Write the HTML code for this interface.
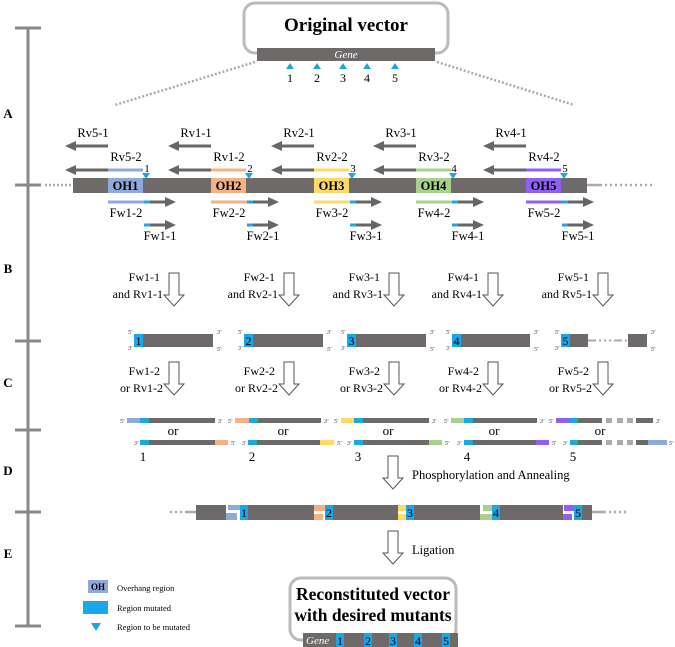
<!DOCTYPE html>
<html><head><meta charset="utf-8"><style>
html,body{margin:0;padding:0;background:#fff;}
svg{display:block;font-family:"Liberation Serif",serif;}
</style></head><body>
<svg width="675" height="647" viewBox="0 0 675 647" xmlns="http://www.w3.org/2000/svg">
<defs>
<g id="ha"><path d="M-5,0 h10 v22 h5 l-10,11 l-10,-11 h5 z" fill="#fff" stroke="#555" stroke-width="1"/></g>
</defs>
<!-- left scale -->
<g stroke="#888" stroke-width="3">
<line x1="28" y1="28" x2="28" y2="626"/>
<line x1="15" y1="28" x2="41" y2="28"/>
<line x1="15" y1="185" x2="41" y2="185"/>
<line x1="15" y1="341" x2="41" y2="341"/>
<line x1="15" y1="430" x2="41" y2="430"/>
<line x1="15" y1="512" x2="41" y2="512"/>
<line x1="15" y1="626" x2="41" y2="626"/>
</g>
<g font-weight="bold" font-size="13" text-anchor="middle">
<text x="8" y="118">A</text><text x="8" y="273">B</text><text x="8" y="387">C</text><text x="8" y="475">D</text><text x="8" y="558">E</text>
</g>
<!-- top vector -->
<rect x="244" y="3" width="204" height="50" rx="11" fill="#fff" stroke="#bbb" stroke-width="3"/>
<text x="346" y="31" font-size="19" font-weight="bold" text-anchor="middle">Original vector</text>
<rect x="257" y="48" width="178" height="13" fill="#6d6a69"/>
<text x="346" y="58" font-size="11" font-style="italic" fill="#fff" text-anchor="middle">Gene</text>
<g fill="#1aa7e8">
<polygon points="286,69 294,69 290,63"/><polygon points="313,69 321,69 317,63"/><polygon points="339,69 347,69 343,63"/><polygon points="363,69 371,69 367,63"/><polygon points="391,69 399,69 395,63"/>
</g>
<g font-size="12" text-anchor="middle"><text x="290" y="82">1</text><text x="317" y="82">2</text><text x="343" y="82">3</text><text x="367" y="82">4</text><text x="395" y="82">5</text></g>
<g stroke="#aaa" stroke-width="2.5" stroke-dasharray="2,2"><line x1="255" y1="62" x2="115" y2="105"/><line x1="437" y1="62" x2="574" y2="105"/></g>
<!-- main bar -->
<line x1="45" y1="185" x2="73" y2="185" stroke="#aaa" stroke-width="2.5" stroke-dasharray="2,2"/>
<line x1="587" y1="185" x2="600" y2="185" stroke="#aaa" stroke-width="2.5"/>
<line x1="600" y1="185" x2="655" y2="185" stroke="#aaa" stroke-width="2.5" stroke-dasharray="2,3"/>
<rect x="73" y="178" width="514" height="15" fill="#6d6a69"/>
<g font-size="12.5" font-weight="bold" text-anchor="middle">
<rect x="108" y="178" width="35" height="15" fill="#8eaadb"/><text x="125.5" y="190">OH1</text>
<rect x="211" y="178" width="35" height="15" fill="#f4b183"/><text x="228.5" y="190">OH2</text>
<rect x="314" y="178" width="35" height="15" fill="#ffd966"/><text x="331.5" y="190">OH3</text>
<rect x="416" y="178" width="35" height="15" fill="#a9d18e"/><text x="433.5" y="190">OH4</text>
<rect x="526" y="178" width="35" height="15" fill="#9060f5"/><text x="543.5" y="190">OH5</text>
</g>
<!-- primers -->
<g font-size="12.5" text-anchor="middle">
<g stroke-width="3">
<line x1="75" y1="146" x2="108" y2="146" stroke="#666"/><line x1="75" y1="170" x2="108" y2="170" stroke="#666"/><line x1="108" y1="170" x2="143" y2="170" stroke="#8eaadb"/>
<line x1="108" y1="202" x2="144" y2="202" stroke="#8eaadb"/><line x1="144" y1="202" x2="150" y2="202" stroke="#1aa7e8"/><line x1="150" y1="202" x2="167" y2="202" stroke="#666"/>
<line x1="144" y1="225" x2="150" y2="225" stroke="#1aa7e8"/><line x1="150" y1="225" x2="167" y2="225" stroke="#666"/>
<line x1="178" y1="146" x2="211" y2="146" stroke="#666"/><line x1="178" y1="170" x2="211" y2="170" stroke="#666"/><line x1="211" y1="170" x2="246" y2="170" stroke="#f4b183"/>
<line x1="211" y1="202" x2="247" y2="202" stroke="#f4b183"/><line x1="247" y1="202" x2="253" y2="202" stroke="#1aa7e8"/><line x1="253" y1="202" x2="270" y2="202" stroke="#666"/>
<line x1="247" y1="225" x2="253" y2="225" stroke="#1aa7e8"/><line x1="253" y1="225" x2="270" y2="225" stroke="#666"/>
<line x1="281" y1="146" x2="314" y2="146" stroke="#666"/><line x1="281" y1="170" x2="314" y2="170" stroke="#666"/><line x1="314" y1="170" x2="349" y2="170" stroke="#ffd966"/>
<line x1="314" y1="202" x2="350" y2="202" stroke="#ffd966"/><line x1="350" y1="202" x2="356" y2="202" stroke="#1aa7e8"/><line x1="356" y1="202" x2="373" y2="202" stroke="#666"/>
<line x1="350" y1="225" x2="356" y2="225" stroke="#1aa7e8"/><line x1="356" y1="225" x2="373" y2="225" stroke="#666"/>
<line x1="383" y1="146" x2="416" y2="146" stroke="#666"/><line x1="383" y1="170" x2="416" y2="170" stroke="#666"/><line x1="416" y1="170" x2="451" y2="170" stroke="#a9d18e"/>
<line x1="416" y1="202" x2="452" y2="202" stroke="#a9d18e"/><line x1="452" y1="202" x2="458" y2="202" stroke="#1aa7e8"/><line x1="458" y1="202" x2="475" y2="202" stroke="#666"/>
<line x1="452" y1="225" x2="458" y2="225" stroke="#1aa7e8"/><line x1="458" y1="225" x2="475" y2="225" stroke="#666"/>
<line x1="493" y1="146" x2="526" y2="146" stroke="#666"/><line x1="493" y1="170" x2="526" y2="170" stroke="#666"/><line x1="526" y1="170" x2="561" y2="170" stroke="#9060f5"/>
<line x1="526" y1="202" x2="562" y2="202" stroke="#9060f5"/><line x1="562" y1="202" x2="568" y2="202" stroke="#1aa7e8"/><line x1="568" y1="202" x2="585" y2="202" stroke="#666"/>
<line x1="562" y1="225" x2="568" y2="225" stroke="#1aa7e8"/><line x1="568" y1="225" x2="585" y2="225" stroke="#666"/>
</g>
<g fill="#666">
<polygon points="65,146 76,141 76,151"/><polygon points="65,170 76,165 76,175"/><polygon points="176,202 165,197 165,207"/><polygon points="176,225 165,220 165,230"/>
<polygon points="168,146 179,141 179,151"/><polygon points="168,170 179,165 179,175"/><polygon points="279,202 268,197 268,207"/><polygon points="279,225 268,220 268,230"/>
<polygon points="271,146 282,141 282,151"/><polygon points="271,170 282,165 282,175"/><polygon points="382,202 371,197 371,207"/><polygon points="382,225 371,220 371,230"/>
<polygon points="373,146 384,141 384,151"/><polygon points="373,170 384,165 384,175"/><polygon points="484,202 473,197 473,207"/><polygon points="484,225 473,220 473,230"/>
<polygon points="483,146 494,141 494,151"/><polygon points="483,170 494,165 494,175"/><polygon points="594,202 583,197 583,207"/><polygon points="594,225 583,220 583,230"/>
</g>
<g fill="#1aa7e8">
<polygon points="142,173 150,173 146,179"/><polygon points="245,173 253,173 249,179"/><polygon points="348,173 356,173 352,179"/><polygon points="449,173 457,173 453,179"/><polygon points="560,173 568,173 564,179"/>
</g>
<text x="93" y="137">Rv5-1</text><text x="126" y="161">Rv5-2</text><text x="147" y="172" font-size="11">1</text><text x="126" y="217">Fw1-2</text><text x="160" y="240">Fw1-1</text>
<text x="196" y="137">Rv1-1</text><text x="229" y="161">Rv1-2</text><text x="250" y="172" font-size="11">2</text><text x="229" y="217">Fw2-2</text><text x="263" y="240">Fw2-1</text>
<text x="299" y="137">Rv2-1</text><text x="332" y="161">Rv2-2</text><text x="353" y="172" font-size="11">3</text><text x="332" y="217">Fw3-2</text><text x="366" y="240">Fw3-1</text>
<text x="401" y="137">Rv3-1</text><text x="434" y="161">Rv3-2</text><text x="454" y="172" font-size="11">4</text><text x="434" y="217">Fw4-2</text><text x="468" y="240">Fw4-1</text>
<text x="511" y="137">Rv4-1</text><text x="544" y="161">Rv4-2</text><text x="565" y="172" font-size="11">5</text><text x="544" y="217">Fw5-2</text><text x="578" y="240">Fw5-1</text>
</g>
<!-- B arrows -->
<use href="#ha" x="174" y="273"/><use href="#ha" x="289" y="273"/><use href="#ha" x="394" y="273"/><use href="#ha" x="493" y="273"/><use href="#ha" x="603" y="273"/>
<g font-size="12" text-anchor="end">
<text x="160" y="281">Fw1-1</text><text x="163" y="298">and Rv1-1</text>
<text x="275" y="281">Fw2-1</text><text x="278" y="298">and Rv2-1</text>
<text x="380" y="281">Fw3-1</text><text x="383" y="298">and Rv3-1</text>
<text x="479" y="281">Fw4-1</text><text x="482" y="298">and Rv4-1</text>
<text x="589" y="281">Fw5-1</text><text x="592" y="298">and Rv5-1</text>
</g>
<!-- fragments -->
<g>
<rect x="134" y="334" width="79" height="13" fill="#6d6a69"/><rect x="134" y="334" width="9" height="13" fill="#1aa7e8"/>
<rect x="244" y="334" width="79" height="13" fill="#6d6a69"/><rect x="244" y="334" width="9" height="13" fill="#1aa7e8"/>
<rect x="347" y="334" width="79" height="13" fill="#6d6a69"/><rect x="347" y="334" width="9" height="13" fill="#1aa7e8"/>
<rect x="452" y="334" width="78" height="13" fill="#6d6a69"/><rect x="452" y="334" width="9" height="13" fill="#1aa7e8"/>
<rect x="561" y="334" width="27" height="13" fill="#6d6a69"/><rect x="561" y="334" width="9" height="13" fill="#1aa7e8"/>
<line x1="588" y1="340.5" x2="628" y2="340.5" stroke="#aaa" stroke-width="2" stroke-dasharray="8,3,2,3,2,3,2,3"/>
<rect x="628" y="334" width="19" height="13" fill="#6d6a69"/>
</g>
<g font-size="12" text-anchor="middle"><text x="138.5" y="345">1</text><text x="248.5" y="345">2</text><text x="351.5" y="345">3</text><text x="456.5" y="345">4</text><text x="565.5" y="345">5</text></g>
<g font-size="6" font-style="italic" fill="#333">
<text x="128" y="334">5'</text><text x="128" y="350">3'</text><text x="217" y="334">3'</text><text x="217" y="351">5'</text>
<text x="238" y="334">5'</text><text x="238" y="350">3'</text><text x="327" y="334">3'</text><text x="327" y="351">5'</text>
<text x="341" y="334">5'</text><text x="341" y="350">3'</text><text x="430" y="334">3'</text><text x="430" y="351">5'</text>
<text x="446" y="334">5'</text><text x="446" y="350">3'</text><text x="534" y="334">3'</text><text x="534" y="351">5'</text>
<text x="555" y="334">5'</text><text x="555" y="350">3'</text><text x="651" y="334">3'</text><text x="651" y="351">5'</text>
</g>
<!-- C arrows -->
<use href="#ha" x="174" y="362"/><use href="#ha" x="289" y="362"/><use href="#ha" x="394" y="362"/><use href="#ha" x="493" y="362"/><use href="#ha" x="603" y="362"/>
<g font-size="12" text-anchor="end">
<text x="160" y="375">Fw1-2</text><text x="163" y="392">or Rv1-2</text>
<text x="275" y="375">Fw2-2</text><text x="278" y="392">or Rv2-2</text>
<text x="380" y="375">Fw3-2</text><text x="383" y="392">or Rv3-2</text>
<text x="479" y="375">Fw4-2</text><text x="482" y="392">or Rv4-2</text>
<text x="589" y="375">Fw5-2</text><text x="592" y="392">or Rv5-2</text>
</g>
<!-- thin bars -->
<g>
<rect x="127" y="418" width="88" height="5" fill="#6d6a69"/><rect x="127" y="418" width="13" height="5" fill="#8eaadb"/><rect x="140" y="418" width="9" height="5" fill="#1aa7e8"/>
<rect x="140" y="440" width="75" height="5" fill="#6d6a69"/><rect x="140" y="440" width="9" height="5" fill="#1aa7e8"/><rect x="215" y="440" width="13" height="5" fill="#f4b183"/>
<rect x="235" y="418" width="86" height="5" fill="#6d6a69"/><rect x="235" y="418" width="14" height="5" fill="#f4b183"/><rect x="249" y="418" width="9" height="5" fill="#1aa7e8"/>
<rect x="248" y="440" width="72" height="5" fill="#6d6a69"/><rect x="248" y="440" width="9" height="5" fill="#1aa7e8"/><rect x="320" y="440" width="14" height="5" fill="#ffd966"/>
<rect x="341" y="418" width="88" height="5" fill="#6d6a69"/><rect x="341" y="418" width="13" height="5" fill="#ffd966"/><rect x="354" y="418" width="9" height="5" fill="#1aa7e8"/>
<rect x="354" y="440" width="75" height="5" fill="#6d6a69"/><rect x="354" y="440" width="9" height="5" fill="#1aa7e8"/><rect x="429" y="440" width="13" height="5" fill="#a9d18e"/>
<rect x="451" y="418" width="86" height="5" fill="#6d6a69"/><rect x="451" y="418" width="13" height="5" fill="#a9d18e"/><rect x="464" y="418" width="9" height="5" fill="#1aa7e8"/>
<rect x="464" y="440" width="72" height="5" fill="#6d6a69"/><rect x="464" y="440" width="9" height="5" fill="#1aa7e8"/><rect x="536" y="440" width="13" height="5" fill="#9060f5"/>
<rect x="556" y="418" width="46" height="5" fill="#6d6a69"/><rect x="556" y="418" width="14" height="5" fill="#9060f5"/><rect x="570" y="418" width="8" height="5" fill="#1aa7e8"/>
<rect x="606" y="418" width="6" height="5" fill="#aaa"/><rect x="617" y="418" width="6" height="5" fill="#aaa"/><rect x="627" y="418" width="6" height="5" fill="#aaa"/><rect x="636" y="418" width="17" height="5" fill="#6d6a69"/>
<rect x="570" y="440" width="32" height="5" fill="#6d6a69"/><rect x="570" y="440" width="8" height="5" fill="#1aa7e8"/>
<rect x="606" y="440" width="6" height="5" fill="#aaa"/><rect x="617" y="440" width="6" height="5" fill="#aaa"/><rect x="627" y="440" width="6" height="5" fill="#aaa"/><rect x="636" y="440" width="12" height="5" fill="#6d6a69"/><rect x="648" y="440" width="19" height="5" fill="#8eaadb"/>
</g>
<g font-size="6" font-style="italic" fill="#333">
<text x="120" y="423">5'</text><text x="218" y="423">3'</text><text x="134" y="445">3'</text><text x="231" y="445">5'</text>
<text x="228" y="423">5'</text><text x="324" y="423">3'</text><text x="242" y="445">3'</text><text x="337" y="445">5'</text>
<text x="334" y="423">5'</text><text x="432" y="423">3'</text><text x="347" y="445">3'</text><text x="445" y="445">5'</text>
<text x="444" y="423">5'</text><text x="540" y="423">3'</text><text x="457" y="445">3'</text><text x="552" y="445">5'</text>
<text x="549" y="423">5'</text><text x="656" y="423">3'</text><text x="563" y="445">3'</text><text x="669" y="445">5'</text>
</g>
<g font-size="13" text-anchor="middle">
<text x="173" y="435">or</text><text x="283" y="435">or</text><text x="388" y="435">or</text><text x="494" y="435">or</text><text x="600" y="435">or</text>
<text x="143" y="461">1</text><text x="252" y="461">2</text><text x="358" y="461">3</text><text x="467" y="461">4</text><text x="573" y="461">5</text>
</g>
<!-- D -->
<use href="#ha" x="393" y="456"/>
<text x="412" y="479" font-size="12.5">Phosphorylation and Annealing</text>
<line x1="170" y1="512" x2="186" y2="512" stroke="#aaa" stroke-width="2.5" stroke-dasharray="2,3"/>
<line x1="186" y1="512" x2="196" y2="512" stroke="#aaa" stroke-width="2.5"/>
<line x1="592" y1="512" x2="604" y2="512" stroke="#aaa" stroke-width="2.5"/>
<line x1="604" y1="512" x2="628" y2="512" stroke="#aaa" stroke-width="2.5" stroke-dasharray="2,3"/>
<rect x="196" y="505" width="396" height="15" fill="#6d6a69"/>
<g>
<rect x="226" y="505" width="14" height="15" fill="#fff"/><rect x="228" y="505" width="12" height="5" fill="#8eaadb"/><rect x="226" y="513" width="11" height="7" fill="#8eaadb"/><rect x="240" y="505" width="8" height="15" fill="#1aa7e8"/>
<rect x="314" y="505" width="11" height="15" fill="#fff"/><rect x="314" y="505" width="11" height="6" fill="#f4b183"/><rect x="314" y="514" width="9" height="6" fill="#f4b183"/><rect x="325" y="505" width="8" height="15" fill="#1aa7e8"/>
<rect x="398" y="505" width="8" height="15" fill="#fff"/><rect x="398" y="505" width="8" height="6" fill="#ffd966"/><rect x="398" y="514" width="8" height="6" fill="#ffd966"/><rect x="406" y="505" width="8" height="15" fill="#1aa7e8"/>
<rect x="480" y="505" width="12" height="15" fill="#fff"/><rect x="483" y="505" width="9" height="6" fill="#a9d18e"/><rect x="480" y="514" width="12" height="6" fill="#a9d18e"/><rect x="492" y="505" width="8" height="15" fill="#1aa7e8"/>
<rect x="563" y="505" width="11" height="15" fill="#fff"/><rect x="564" y="505" width="10" height="6" fill="#9060f5"/><rect x="563" y="514" width="9" height="6" fill="#9060f5"/><rect x="574" y="505" width="8" height="15" fill="#1aa7e8"/>
</g>
<g font-size="12" text-anchor="middle"><text x="244" y="517">1</text><text x="329" y="517">2</text><text x="410" y="517">3</text><text x="496" y="517">4</text><text x="578" y="517">5</text></g>
<!-- E -->
<use href="#ha" x="393" y="531"/>
<text x="412" y="554" font-size="12.5">Ligation</text>
<!-- legend -->
<rect x="88" y="580" width="20" height="13" fill="#8eaadb"/>
<text x="98" y="590" font-size="9" font-weight="bold" text-anchor="middle">OH</text>
<text x="117" y="591" font-size="8.5">Overhang region</text>
<rect x="83" y="601" width="25" height="13" fill="#1aa7e8"/>
<text x="117" y="611" font-size="8.5">Region mutated</text>
<polygon points="91,623 101,623 96,631" fill="#1aa7e8"/>
<text x="117" y="630" font-size="8.5">Region to be mutated</text>
<!-- bottom box -->
<rect x="290" y="578" width="166" height="62" rx="11" fill="#fff" stroke="#bbb" stroke-width="3"/>
<text x="373" y="600" font-size="17.5" font-weight="bold" text-anchor="middle">Reconstituted vector</text>
<text x="373" y="621" font-size="17.5" font-weight="bold" text-anchor="middle">with desired mutants</text>
<rect x="303" y="633" width="155" height="14" fill="#6d6a69"/>
<text x="306" y="644" font-size="11" font-style="italic" fill="#fff">Gene</text>
<g fill="#1aa7e8"><rect x="336" y="633" width="8" height="14"/><rect x="364" y="633" width="8" height="14"/><rect x="389" y="633" width="8" height="14"/><rect x="414" y="633" width="8" height="14"/><rect x="442" y="633" width="8" height="14"/></g>
<g font-size="12" text-anchor="middle"><text x="340" y="645">1</text><text x="368" y="645">2</text><text x="393" y="645">3</text><text x="418" y="645">4</text><text x="446" y="645">5</text></g>
</svg>
</body></html>
